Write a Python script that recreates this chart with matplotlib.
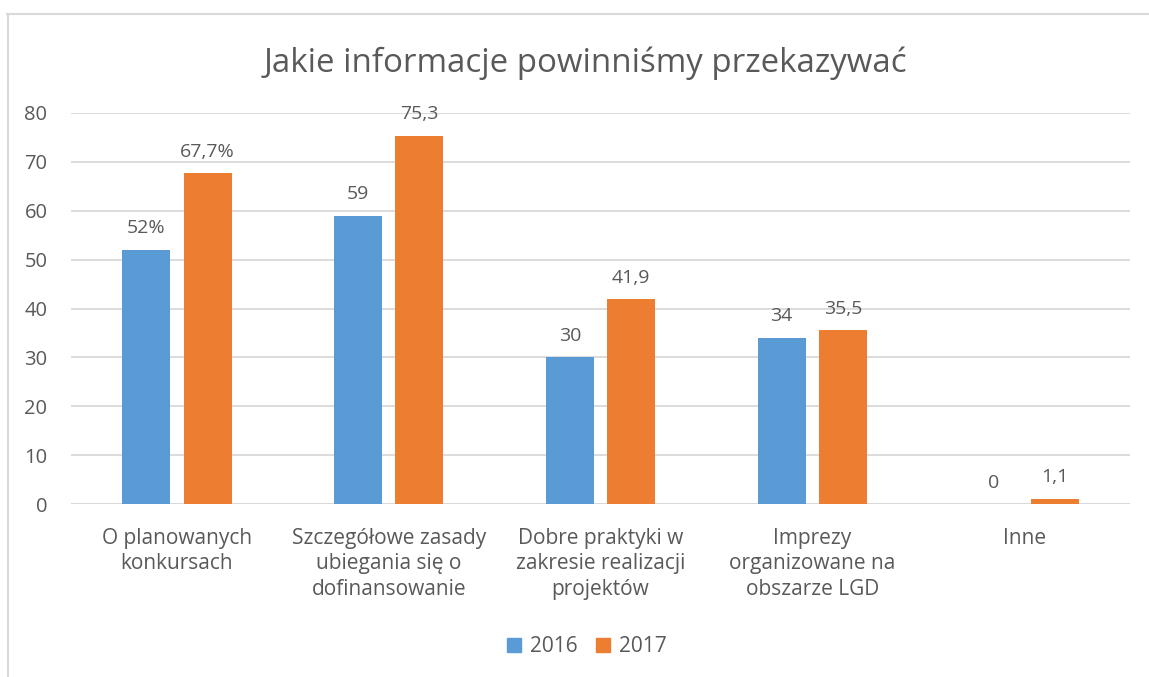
import matplotlib
matplotlib.use("Agg")
import matplotlib.pyplot as plt
from matplotlib.lines import Line2D
from matplotlib.patches import Patch
import numpy as np

plt.rcParams['font.family'] = ['Open Sans', 'DejaVu Sans']

categories = ["O planowanych\nkonkursach",
              "Szczegółowe zasady\nubiegania się o\ndofinansowanie",
              "Dobre praktyki w\nzakresie realizacji\nprojektów",
              "Imprezy\norganizowane na\nobszarze LGD",
              "Inne"]
values_2016 = [52, 59, 30, 34, 0]
values_2017 = [67.7, 75.3, 41.9, 35.5, 1.1]
labels_2016 = ["52%", "59", "30", "34", "0"]
labels_2017 = ["67,7%", "75,3", "41,9", "35,5", "1,1"]
series_names = ["2016", "2017"]
yticks = [0, 10, 20, 30, 40, 50, 60, 70, 80]

blue = "#5B9BD5"
orange = "#ED7D31"
txt = "#595959"
grid = "#D9D9D9"

W, H = 1149, 677
fig = plt.figure(figsize=(W/100, H/100), dpi=100)
ax = fig.add_axes([71/W, 1-504/H, (1130-71)/W, (504-113)/H])

x = np.arange(len(categories))
bw = 0.227
off = 0.145
b1 = ax.bar(x - off, values_2016, bw, color=blue, zorder=3)
b2 = ax.bar(x + off, values_2017, bw, color=orange, zorder=3)

fs_lab = 14
for rect, lab in zip(b1, labels_2016):
    ax.annotate(lab, (rect.get_x()+rect.get_width()/2, rect.get_height()),
                xytext=(0, 9), textcoords="offset points", ha="center", va="bottom",
                fontsize=fs_lab, color=txt)
for rect, lab in zip(b2, labels_2017):
    ax.annotate(lab, (rect.get_x()+rect.get_width()/2, rect.get_height()),
                xytext=(0, 9), textcoords="offset points", ha="center", va="bottom",
                fontsize=fs_lab, color=txt)

ax.set_xlim(-0.5, len(categories)-0.5)
ax.set_ylim(0, 80)
ax.set_yticks(yticks)
ax.set_yticklabels([str(v) for v in yticks], fontsize=14.5, color=txt)
ax.set_xticks(x)
ax.set_xticklabels(categories, fontsize=15, color=txt, linespacing=1.28, va="top")
ax.tick_params(axis='both', length=0)
ax.tick_params(axis='y', pad=17)
ax.tick_params(axis='x', pad=17)
ax.yaxis.grid(True, color=grid, linewidth=1.3, zorder=0)
ax.set_axisbelow(True)
for s in ax.spines.values():
    s.set_visible(False)
ax.axhline(0, color=grid, linewidth=1.3, zorder=2)

fig.text(585/W, 1-63/H, "Jakie informacje powinniśmy przekazywać", ha="center", va="center",
         fontsize=23.8, color=txt)

handles = [Patch(color=blue), Patch(color=orange)]
fig.legend(handles, series_names, loc="center", bbox_to_anchor=(587/W, 1-647/H), ncol=2,
           frameon=False, fontsize=15, labelcolor=txt, handlelength=0.65, handleheight=0.65,
           handletextpad=0.45, columnspacing=0.9)

fig.add_artist(Line2D([7.5/W, 7.5/W], [0, 1-14/H], color=grid, linewidth=1.5, transform=fig.transFigure))
fig.add_artist(Line2D([7/W, 1], [1-14/H, 1-14/H], color=grid, linewidth=1.5, transform=fig.transFigure))

fig.savefig("out.png", dpi=100, facecolor="white")
